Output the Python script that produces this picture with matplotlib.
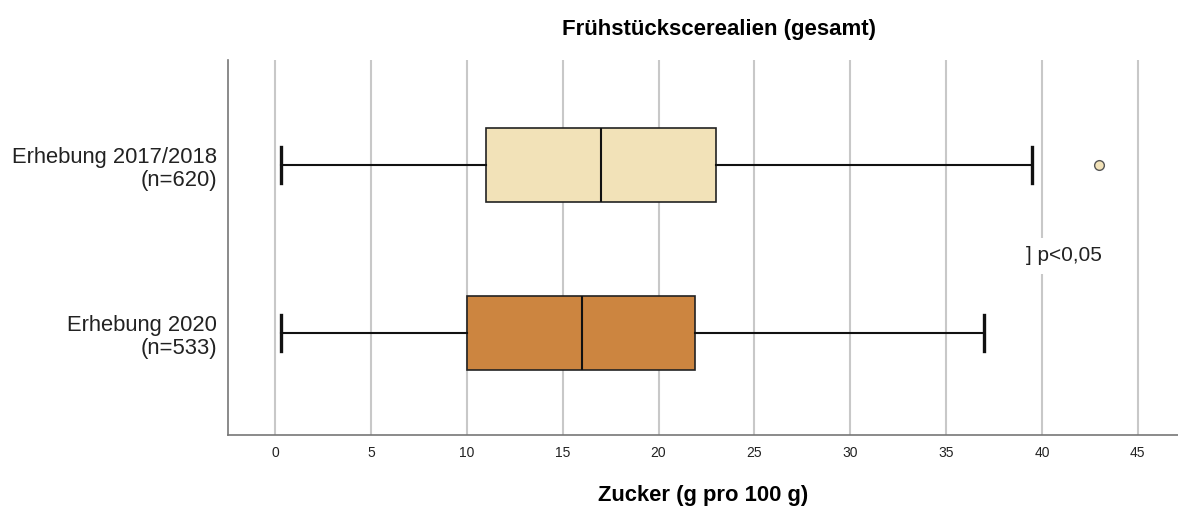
import matplotlib.pyplot as plt

plt.rcParams["font.family"] = ["Liberation Sans", "DejaVu Sans"]

# Zuckergehalt Frühstückscerealien, Kennwerte der Boxplots
groups = ["Erhebung 2017/2018\n(n=620)", "Erhebung 2020\n(n=533)"]
whisker_low = [0.3, 0.3]
q1 = [11.0, 10.0]
median = [17.0, 16.0]
q3 = [23.0, 21.9]
whisker_high = [39.5, 37.0]
outliers = [[43.0], []]
colors = ["#f2e2b8", "#cc8540"]
x_ticks = [0, 5, 10, 15, 20, 25, 30, 35, 40, 45]

stats = []
for i, name in enumerate(groups):
    stats.append({
        "label": name,
        "whislo": whisker_low[i],
        "q1": q1[i],
        "med": median[i],
        "q3": q3[i],
        "whishi": whisker_high[i],
        "fliers": outliers[i],
    })

fig = plt.figure(figsize=(11.78, 5.07), dpi=100)
ax = fig.add_axes([228 / 1178, 72 / 507, 950 / 1178, 375 / 507])

ax.set_axisbelow(True)
ax.grid(axis="x", color="#c8c8c8", linewidth=1.5)

bp = ax.bxp(
    stats,
    positions=[1, 2],
    vert=False,
    widths=0.435,
    patch_artist=True,
    boxprops=dict(edgecolor="#222222", linewidth=1.2),
    medianprops=dict(color="#111111", linewidth=1.5),
    whiskerprops=dict(color="#111111", linewidth=1.5),
    capprops=dict(color="#111111", linewidth=2.4),
    capwidths=0.21,
    flierprops=dict(marker="o", markersize=7, markerfacecolor=colors[0],
                    markeredgecolor="#555555", markeredgewidth=1),
)
for patch, c in zip(bp["boxes"], colors):
    patch.set_facecolor(c)

ax.set_xlim(-2.46, 47.1)
ax.set_ylim(2.607, 0.375)
ax.set_xticks(x_ticks)
ax.set_xticklabels([str(t) for t in x_ticks], fontsize=10, color="#222222")
ax.tick_params(axis="both", length=0)
ax.tick_params(axis="x", pad=8)
ax.tick_params(axis="y", labelsize=15.8, pad=8, labelcolor="#222222")
for lbl in ax.get_yticklabels():
    lbl.set_linespacing(1.15)

for side in ["top", "right"]:
    ax.spines[side].set_visible(False)
for side in ["left", "bottom"]:
    ax.spines[side].set_color("#777777")
    ax.spines[side].set_linewidth(1.2)

ax.text(41.15, 1.54, "] p<0,05", fontsize=15, color="#222222",
        ha="center", va="center",
        bbox=dict(facecolor="white", edgecolor="none", pad=6))

fig.text(719 / 1178, 1 - 29 / 507, "Frühstückscerealien (gesamt)",
         fontsize=16, fontweight="bold", ha="center", va="center")
ax.set_xlabel("Zucker (g pro 100 g)", fontsize=15.8, fontweight="bold", labelpad=18)

fig.savefig("out.png", dpi=100)
